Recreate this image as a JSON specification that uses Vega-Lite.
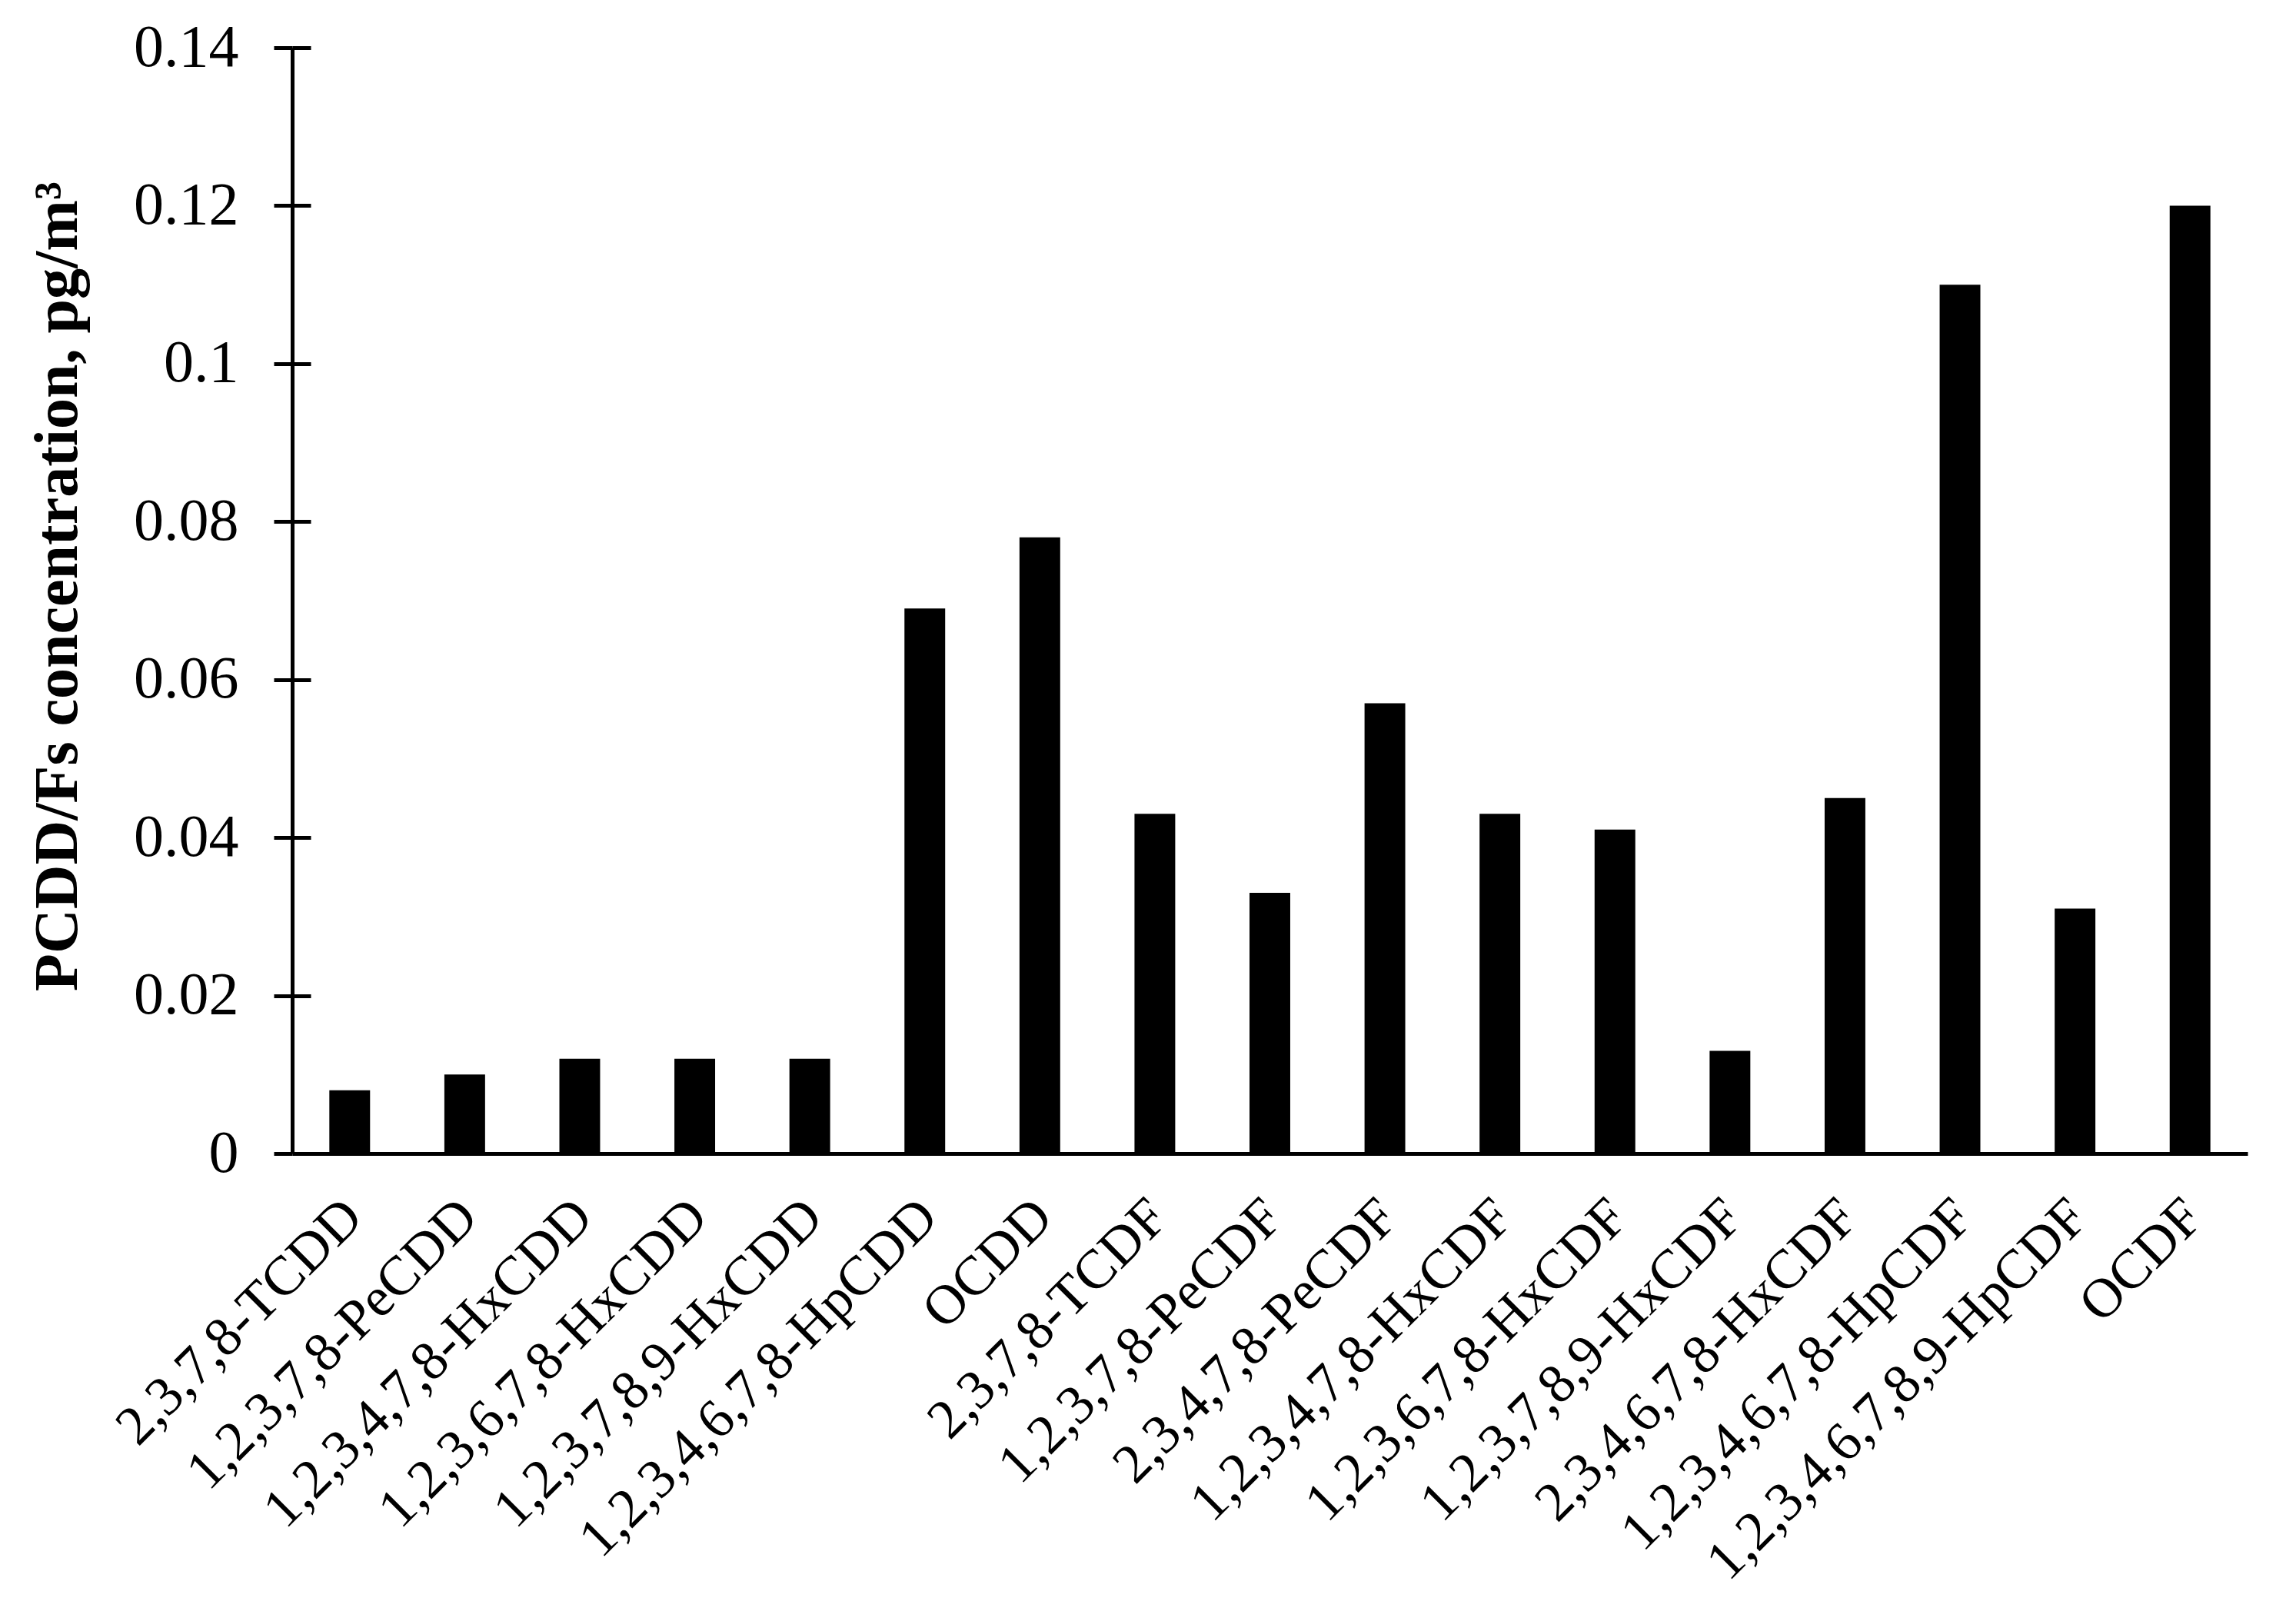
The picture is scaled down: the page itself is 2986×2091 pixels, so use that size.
{
  "$schema": "https://vega.github.io/schema/vega-lite/v6.json",
  "autosize": {"type": "none"},
  "width": 2543,
  "height": 1438,
  "padding": {"left": 380, "top": 62, "right": 63, "bottom": 591},
  "background": "white",
  "config": {
    "view": {"stroke": null},
    "font": "Liberation Serif",
    "axis": {"labelFont": "Liberation Serif", "titleFont": "Liberation Serif", "labelColor": "black", "titleColor": "black", "domainColor": "black", "tickColor": "black", "grid": false}
  },
  "data": {
    "values": [
      {"congener": "2,3,7,8-TCDD", "value": 0.008},
      {"congener": "1,2,3,7,8-PeCDD", "value": 0.010},
      {"congener": "1,2,3,4,7,8-HxCDD", "value": 0.012},
      {"congener": "1,2,3,6,7,8-HxCDD", "value": 0.012},
      {"congener": "1,2,3,7,8,9-HxCDD", "value": 0.012},
      {"congener": "1,2,3,4,6,7,8-HpCDD", "value": 0.069},
      {"congener": "OCDD", "value": 0.078},
      {"congener": "2,3,7,8-TCDF", "value": 0.043},
      {"congener": "1,2,3,7,8-PeCDF", "value": 0.033},
      {"congener": "2,3,4,7,8-PeCDF", "value": 0.057},
      {"congener": "1,2,3,4,7,8-HxCDF", "value": 0.043},
      {"congener": "1,2,3,6,7,8-HxCDF", "value": 0.041},
      {"congener": "1,2,3,7,8,9-HxCDF", "value": 0.013},
      {"congener": "2,3,4,6,7,8-HxCDF", "value": 0.045},
      {"congener": "1,2,3,4,6,7,8-HpCDF", "value": 0.110},
      {"congener": "1,2,3,4,6,7,8,9-HpCDF", "value": 0.031},
      {"congener": "OCDF", "value": 0.120}
    ]
  },
  "layer": [
    {
      "mark": {"type": "bar", "color": "black"},
      "encoding": {
        "x": {
          "field": "congener", "type": "nominal", "sort": null,
          "scale": {"paddingInner": 0.646, "paddingOuter": 0.323},
          "axis": {"title": null, "labelAngle": -45, "labelFontSize": 72, "labelPadding": 46, "labelOffset": -20, "ticks": false, "domainWidth": 5, "labelLimit": 0, "labelOverlap": false}
        },
        "y": {
          "field": "value", "type": "quantitative",
          "scale": {"domain": [0, 0.14], "nice": false, "zero": true},
          "axis": {
            "title": "PCDD/Fs concentration, pg/m³",
            "titleFontSize": 80, "titleFontWeight": "bold", "titlePadding": 64, "titleY": 700,
            "values": [0, 0.02, 0.04, 0.06, 0.08, 0.1, 0.12, 0.14],
            "format": ".2~f", "labelFontSize": 78, "labelPadding": 46,
            "tickSize": 24, "tickWidth": 5, "domainWidth": 5
          }
        }
      }
    },
    {
      "mark": {"type": "bar", "color": "black", "opacity": 0},
      "encoding": {
        "x": {"field": "congener", "type": "nominal", "sort": null},
        "y": {
          "field": "value", "type": "quantitative",
          "axis": {"orient": "left", "title": null, "labels": false, "domain": false, "tickSize": -24, "tickWidth": 5, "values": [0.02, 0.04, 0.06, 0.08, 0.1, 0.12, 0.14]}
        }
      }
    }
  ],
  "resolve": {"axis": {"y": "independent"}}
}
